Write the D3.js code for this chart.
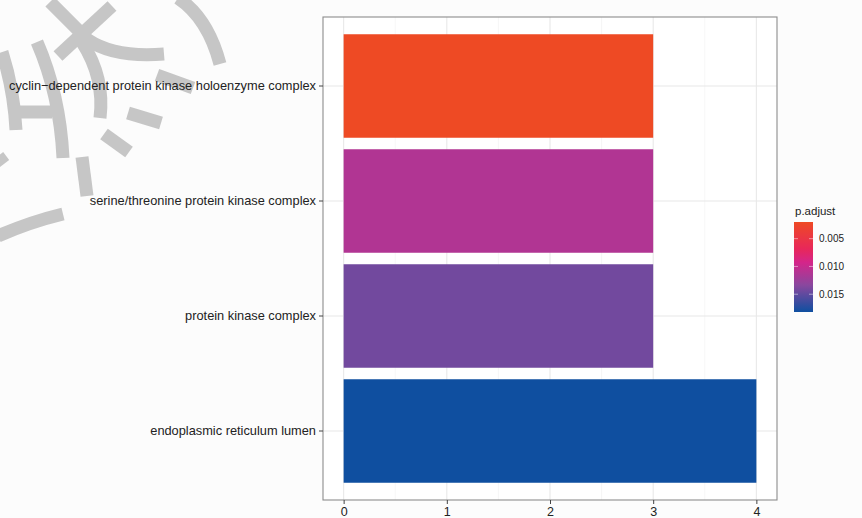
<!DOCTYPE html>
<html><head><meta charset="utf-8">
<script src="https://cdn.jsdelivr.net/npm/d3@7"></script>
<style>html,body{margin:0;padding:0;background:#fcfcfc;}svg{display:block;}</style>
</head><body>
<script>
// ---- data ----
const categories = [
  "cyclin\u2212dependent protein kinase holoenzyme complex",
  "serine/threonine protein kinase complex",
  "protein kinase complex",
  "endoplasmic reticulum lumen"
];
const counts = [3, 3, 3, 4];
const pAdjust = [0.0020, 0.0112, 0.0143, 0.0182];
const xTicks = [0, 1, 2, 3, 4];
const legendTicks = [0.005, 0.010, 0.015];
const legendTickLabels = ["0.005", "0.010", "0.015"];
const colorStops = ["#EE4A24", "#E8275A", "#D4258A", "#8A479E", "#0F4FA0"];
const colorStopPos = [0, 0.3, 0.45, 0.7, 1];

const W = 862, H = 518;
const FONT = "Liberation Sans, Arial, sans-serif";
const svg = d3.select("body").append("svg").attr("width", W).attr("height", H);
svg.append("rect").attr("width", W).attr("height", H).attr("fill", "#fcfcfc");

const panel = {l: 323, r: 777, t: 17, b: 500};
const x = d3.scaleLinear().domain([-0.2, 4.2]).range([panel.l, panel.r]);
const y = d3.scaleBand().domain(categories).range([panel.t, panel.b]).paddingInner(0.1).paddingOuter(0.15);

const [pmin, pmax] = d3.extent(pAdjust);
const color = d3.scaleLinear()
  .domain(colorStopPos.map(t => pmin + t * (pmax - pmin)))
  .range(colorStops).interpolate(d3.interpolateRgb);

// watermark strokes (decorative overlay, under the text)
const wm = svg.append("g").attr("fill", "none").attr("stroke", "#c6c6c6").attr("stroke-width", 13);
const wmPaths = [
  "M50,2 L88,40 Q115,58 164,54",
  "M112,6 L58,56",
  "M178,-2 Q208,18 220,64",
  "M82,42 Q105,78 100,118",
  "M157,75 L193,88",
  "M128,113 L161,123",
  "M104,134 L129,152",
  "M82,157 L87,196",
  "M37,42 Q60,95 63,158",
  "M2,52 Q14,90 16,130",
  "M12,112 L52,112",
  "M-2,236 Q30,222 63,214",
  "M-2,156 L4,164"
];
wm.selectAll("path").data(wmPaths).join("path").attr("d", d => d);

// panel background
svg.append("rect").attr("x", panel.l).attr("y", panel.t).attr("width", panel.r - panel.l)
  .attr("height", panel.b - panel.t).attr("fill", "#ffffff");

// grid
const g = svg.append("g");
const minor = d3.range(-0.5, 4.6, 1).filter(v => v > -0.2 && v < 4.2);
g.selectAll(".minor").data(minor).join("line")
  .attr("x1", d => x(d)).attr("x2", d => x(d)).attr("y1", panel.t).attr("y2", panel.b)
  .attr("stroke", "#f0f0f0").attr("stroke-width", 0.6);
g.selectAll(".major").data(xTicks).join("line")
  .attr("x1", d => x(d)).attr("x2", d => x(d)).attr("y1", panel.t).attr("y2", panel.b)
  .attr("stroke", "#e8e8e8").attr("stroke-width", 1.1);
g.selectAll(".hmajor").data(categories).join("line")
  .attr("x1", panel.l).attr("x2", panel.r)
  .attr("y1", d => y(d) + y.bandwidth() / 2).attr("y2", d => y(d) + y.bandwidth() / 2)
  .attr("stroke", "#e8e8e8").attr("stroke-width", 1.1);

// bars
svg.selectAll(".bar").data(categories).join("rect")
  .attr("x", x(0)).attr("y", d => y(d))
  .attr("width", (d, i) => x(counts[i]) - x(0))
  .attr("height", y.bandwidth())
  .attr("fill", (d, i) => color(pAdjust[i]));

// panel border
svg.append("rect").attr("x", panel.l).attr("y", panel.t).attr("width", panel.r - panel.l)
  .attr("height", panel.b - panel.t).attr("fill", "none").attr("stroke", "#8c8c8c").attr("stroke-width", 1.1);

// axes
const xAxis = d3.axisBottom(x).tickValues(xTicks).tickSize(4).tickPadding(3).tickFormat(d3.format("d"));
const xa = svg.append("g").attr("transform", `translate(0,${panel.b})`).call(xAxis);
xa.select(".domain").remove();
xa.selectAll(".tick line").attr("stroke", "#444");
xa.selectAll("text").attr("font-family", FONT).attr("font-size", 12.5).attr("fill", "#222");

const yAxis = d3.axisLeft(y).tickSize(4).tickPadding(3);
const ya = svg.append("g").attr("transform", `translate(${panel.l},0)`).call(yAxis);
ya.select(".domain").remove();
ya.selectAll(".tick line").attr("stroke", "#444");
ya.selectAll("text").attr("font-family", FONT).attr("font-size", 12.8).attr("fill", "#222");

// legend
const lg = {x: 794, w: 19, t: 222, b: 312};
const ly = d3.scaleLinear().domain([pmin, pmax]).range([lg.t, lg.b]);
const defs = svg.append("defs");
const grad = defs.append("linearGradient").attr("id", "cb").attr("x1", 0).attr("x2", 0).attr("y1", 0).attr("y2", 1);
d3.range(0, 1.0001, 0.05).forEach(t => {
  grad.append("stop").attr("offset", t).attr("stop-color", color(pmin + t * (pmax - pmin)));
});
svg.append("rect").attr("x", lg.x).attr("y", lg.t).attr("width", lg.w).attr("height", lg.b - lg.t).attr("fill", "url(#cb)");
legendTicks.forEach(v => {
  [[lg.x, lg.x + 4], [lg.x + lg.w - 4, lg.x + lg.w]].forEach(([a, b]) => {
    svg.append("line").attr("x1", a).attr("x2", b).attr("y1", ly(v)).attr("y2", ly(v))
      .attr("stroke", "#ffffff").attr("stroke-opacity", 0.6).attr("stroke-width", 0.8);
  });
});
svg.selectAll(".ltxt").data(legendTicks).join("text")
  .attr("x", 819).attr("y", d => ly(d)).attr("dy", "0.35em")
  .attr("font-family", FONT).attr("font-size", 10).attr("fill", "#222")
  .text((d, i) => legendTickLabels[i]);
svg.append("text").attr("x", 795).attr("y", 215)
  .attr("font-family", FONT).attr("font-size", 11.5).attr("fill", "#222")
  .text("p.adjust");
</script>
</body></html>
